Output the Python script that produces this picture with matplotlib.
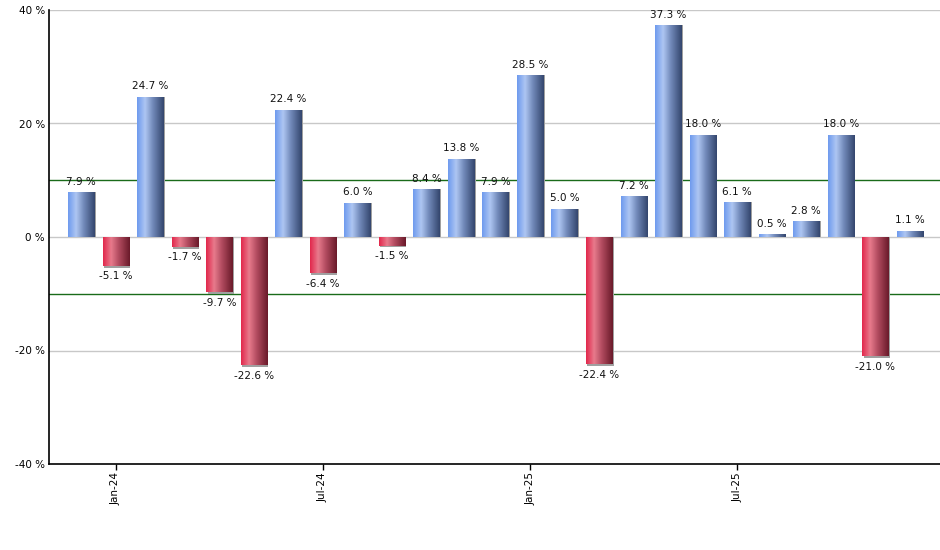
import matplotlib
matplotlib.use("Agg")
import matplotlib.pyplot as plt
import numpy as np
from matplotlib.colors import LinearSegmentedColormap
from matplotlib.patches import Rectangle

months = ["Dec-23", "Jan-24", "Feb-24", "Mar-24", "Apr-24", "May-24", "Jun-24",
          "Jul-24", "Aug-24", "Sep-24", "Oct-24", "Nov-24", "Dec-24", "Jan-25",
          "Feb-25", "Mar-25", "Apr-25", "May-25", "Jun-25", "Jul-25", "Aug-25",
          "Sep-25", "Oct-25", "Nov-25", "Dec-25"]
values = [7.9, -5.1, 24.7, -1.7, -9.7, -22.6, 22.4, -6.4, 6.0, -1.5, 8.4, 13.8,
          7.9, 28.5, 5.0, -22.4, 7.2, 37.3, 18.0, 6.1, 0.5, 2.8, 18.0, -21.0, 1.1]
tick_labels = ["Jan-24", "Jul-24", "Jan-25", "Jul-25"]
y_ticks = [-40, -20, 0, 20, 40]

plt.rcParams['font.family'] = ['DejaVu Sans']

fig = plt.figure(figsize=(9.4, 5.5), dpi=100)
ax = fig.add_axes([49/940, 1-464/550, 1-49/940, (464-10)/550])

x = np.arange(len(values))
width = 0.76

blue_cmap = LinearSegmentedColormap.from_list(
    "b", [(0, "#6f9bee"), (0.3, "#aec6f2"), (0.6, "#7088b8"), (1, "#34466e")])
red_cmap = LinearSegmentedColormap.from_list(
    "r", [(0, "#e2284c"), (0.3, "#e87a8c"), (0.6, "#b04a5e"), (1, "#6a1a2a")])
grad = np.linspace(0, 1, 64).reshape(1, -1)

ax.set_xlim(-0.93, 24.87)
ax.set_ylim(-40, 40)

# grid lines
for yv in [40, 20, 0, -20]:
    ax.axhline(yv, color="#c8c8c8", lw=1.0, zorder=1)
for yv in [10, -10]:
    ax.axhline(yv, color="#1a6b1a", lw=1.0, zorder=1)

bars = ax.bar(x, values, width=width, color="none", edgecolor="none", zorder=3)
for xi, v, b in zip(x, values, bars):
    x0 = xi - width/2
    # shadow
    sh = Rectangle((x0 + 0.04, min(0, v) - 0.35 if v < 0 else 0), width, abs(v) + (0.35 if v < 0 else 0),
                   facecolor="#a0a0a0", edgecolor="none", zorder=2)
    ax.add_patch(sh)
    cmap = blue_cmap if v >= 0 else red_cmap
    im = ax.imshow(grad, cmap=cmap, aspect="auto",
                   extent=[x0, x0 + width, min(0, v), max(0, v)],
                   zorder=3, interpolation="bilinear")
    im.set_clip_path(b)
    if v >= 0:
        ax.annotate(f"{v:.1f} %", (xi, v), xytext=(0, 4), textcoords="offset points",
                    ha="center", va="bottom", fontsize=7.5, color="#111111", zorder=5)
    else:
        ax.annotate(f"{v:.1f} %", (xi, v), xytext=(0, -4), textcoords="offset points",
                    ha="center", va="top", fontsize=7.5, color="#111111", zorder=5)

ax.set_xlim(-0.93, 24.87)
ax.set_ylim(-40, 40)

ax.set_yticks(y_ticks)
ax.set_yticklabels([f"{t} %" for t in y_ticks], fontsize=7.5)
tick_pos = [months.index(m) for m in tick_labels]
ax.set_xticks(tick_pos)
ax.set_xticklabels(tick_labels, rotation=90, fontsize=7.5)
ax.tick_params(axis="x", length=4, width=1, direction="out", pad=2)
ax.tick_params(axis="y", length=0, pad=3)

for s in ["top", "right"]:
    ax.spines[s].set_visible(False)
ax.spines["left"].set_linewidth(1.2)
ax.spines["bottom"].set_linewidth(1.2)
ax.spines["left"].set_zorder(6)
ax.spines["bottom"].set_zorder(6)

fig.savefig("out.png", dpi=100)
